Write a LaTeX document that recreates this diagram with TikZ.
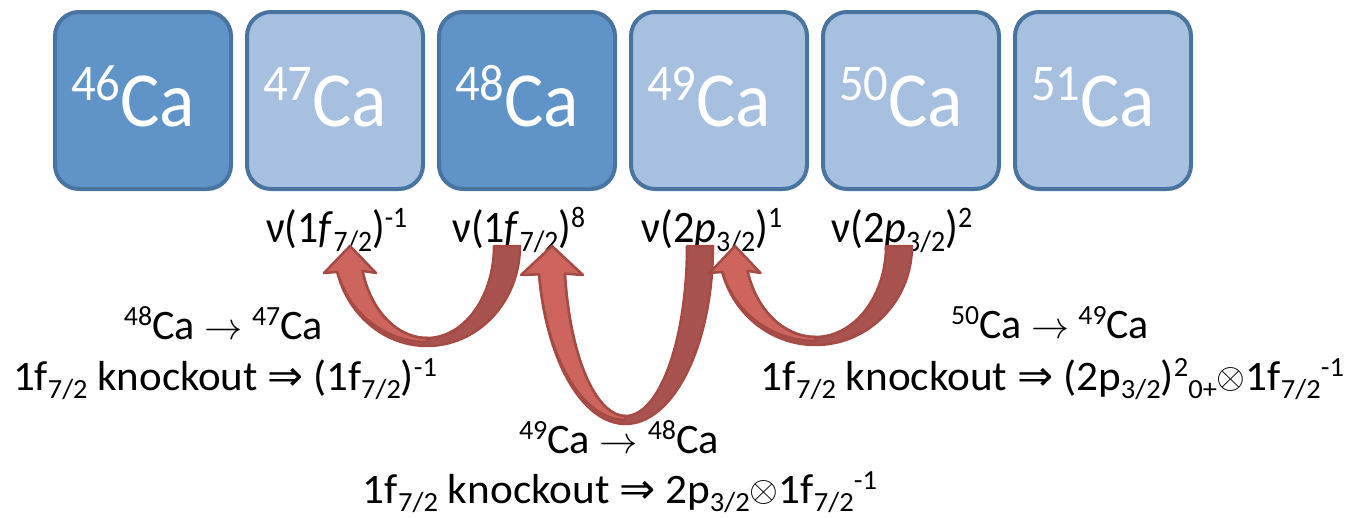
\documentclass[tikz,border=0pt]{standalone}
\usepackage{fontspec}
\setmainfont{Carlito}
\newfontfamily\symfont{DejaVu Sans}

\definecolor{boxdark}{HTML}{6094C8}
\definecolor{boxlight}{HTML}{A7C0E0}
\definecolor{boxline}{HTML}{4A74A0}
\definecolor{arrowfront}{HTML}{CD655E}
\definecolor{arrowback}{HTML}{A8534F}
\definecolor{arrowline}{HTML}{A54A45}

% raised / lowered indices set in running text, one after the other
\makeatletter
\newcommand\hi[1]{\raisebox{0.33em}{\fontsize{\fpeval{0.66*\f@size}}{0}\selectfont #1}}
\newcommand\lo[1]{\raisebox{-0.2em}{\fontsize{\fpeval{0.66*\f@size}}{0}\selectfont #1}}
\makeatother
\newcommand\tto{\ \scalebox{3.8}{\fontsize{10}{12}\selectfont$\rightarrow$}\ }
\newcommand\imp{\ {\symfont ⇒}\ }
\newcommand\ox{\raisebox{2pt}{\scalebox{3.6}{\fontsize{10}{12}\selectfont$\otimes$}}}
% a line of text brought to a given width, its height kept
\newcommand\fitw[2]{\resizebox{#1}{\height}{#2}}

% U-shaped knockout arrow: #1 centre x, #2 half span, #3 depth,
% #4 head half-width, #5 y of the head base; top of the arrow at y = 246
\newcommand\knockarrow[5]{%
  \pgfmathsetmacro\knAo{#2+13}%
  \pgfmathsetmacro\knAi{#2-13}%
  \pgfmathsetmacro\knBo{#3}%
  \pgfmathsetmacro\knBm{#3-4}%
  \pgfmathsetmacro\knBi{#3-8}%
  \pgfmathsetmacro\knT{asin((#5-246)/#3)}%
  \pgfmathsetmacro\knE{180-\knT}%
  \pgfmathsetmacro\knHx{#1-#2*cos(\knT)}%
  \draw[backband]
    plot[domain=0:\knE, samples=50] ({#1+\knAo*cos(\x)},{246+\knBo*sin(\x)})
    -- plot[domain=\knE:0, samples=50] ({#1+\knAi*cos(\x)},{246+\knBi*sin(\x)})
    -- cycle;
  \draw[frontband]
    plot[domain=90:\knE, samples=40] ({#1+\knAo*cos(\x)},{246+\knBm*sin(\x)})
    -- (\knHx-#4,#5) -- (\knHx,246) -- (\knHx+#4,#5)
    -- plot[domain=\knE:90, samples=40] ({#1+\knAi*cos(\x)},{246+\knBi*sin(\x)})
    -- cycle;
}

\tikzset{
  isobox/.style={draw=boxline, line width=4pt, rounded corners=24pt,
    minimum width=176pt, minimum height=177pt, inner sep=0pt},
  isodark/.style={isobox, fill=boxdark},
  isolight/.style={isobox, fill=boxlight},
  isotext/.style={anchor=base west, inner sep=0pt, text=white,
    font=\fontsize{78}{78}\selectfont},
  orbit/.style={anchor=base west, inner sep=0pt, font=\fontsize{45}{45}\selectfont},
  note/.style={anchor=base, inner sep=0pt, font=\fontsize{42}{42}\selectfont},
  backband/.style={fill=arrowback, draw=arrowline, line width=2.5pt, line join=round},
  frontband/.style={fill=arrowfront, draw=arrowline, line width=2.5pt, line join=round},
}

\begin{document}
\begin{tikzpicture}[x=1pt, y=-1pt]
\useasboundingbox (0,0) rectangle (1346,517);

% calcium isotopes
\node[isodark]  (b46) at (143,100.5) {};
\node[isolight] (b47) at (335,100.5) {};
\node[isodark]  (b48) at (527,100.5) {};
\node[isolight] (b49) at (719,100.5) {};
\node[isolight] (b50) at (911,100.5) {};
\node[isolight] (b51) at (1103,100.5) {};

\node[isotext] (t46) at (71,126)   {\fitw{124pt}{\hi{46}Ca}};
\node[isotext] (t47) at (263,126)  {\fitw{124pt}{\hi{47}Ca}};
\node[isotext] (t48) at (455,126)  {\fitw{124pt}{\hi{48}Ca}};
\node[isotext] (t49) at (647,126)  {\fitw{124pt}{\hi{49}Ca}};
\node[isotext] (t50) at (839,126)  {\fitw{124pt}{\hi{50}Ca}};
\node[isotext] (t51) at (1031,126) {\fitw{124pt}{\hi{51}Ca}};

% neutron configurations
\node[orbit] (o47) at (266,242) {\fitw{141pt}{ν(1\textit{f}\lo{7/2})\hi{-1}}};
\node[orbit] (o48) at (452,242) {\fitw{133pt}{ν(1\textit{f}\lo{7/2})\hi{8}}};
\node[orbit] (o49) at (641,242) {\fitw{141pt}{ν(2\textit{p}\lo{3/2})\hi{1}}};
\node[orbit] (o50) at (831,242) {\fitw{141pt}{ν(2\textit{p}\lo{3/2})\hi{2}}};

% knockout arrows
\knockarrow{427}{80}{100}{26}{273}
\knockarrow{625.5}{74.5}{178}{31}{275}
\knockarrow{815.4}{83.6}{99}{25.5}{273}

% reactions
\node[note] (r1a) at (223.5,339) {\fitw{199pt}{\hi{48}Ca\tto\hi{47}Ca}};
\node[note] (r1b) at (225,390) {\fitw{424pt}{1f\lo{7/2} knockout\imp(1f\lo{7/2})\hi{-1}}};
\node[note] (r2a) at (619,453) {\fitw{200pt}{\hi{49}Ca\tto\hi{48}Ca}};
\node[note] (r2b) at (620,503) {\fitw{514pt}{1f\lo{7/2} knockout\imp 2p\lo{3/2}\ox 1f\lo{7/2}\hi{-1}}};
\node[note] (r3a) at (1050,338) {\fitw{198pt}{\hi{50}Ca\tto\hi{49}Ca}};
\node[note] (r3b) at (1052.5,390) {\fitw{583pt}{1f\lo{7/2} knockout\imp(2p\lo{3/2})\hi{2}\lo{0+}\ox 1f\lo{7/2}\hi{-1}}};
\end{tikzpicture}
\end{document}
